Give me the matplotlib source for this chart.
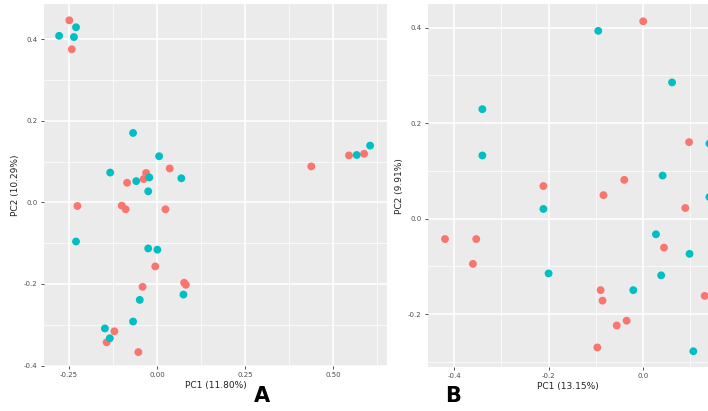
import matplotlib.pyplot as plt
from matplotlib.ticker import MultipleLocator

# Panel A: PCA scores, two groups
a_red_x = [-0.249, -0.242, -0.226, -0.100, -0.089, -0.085, -0.031, -0.038, 0.036, 0.024,
           -0.005, 0.077, 0.082, -0.041, -0.121, -0.143, -0.053, 0.438, 0.545, 0.588]
a_red_y = [0.446, 0.375, -0.009, -0.008, -0.017, 0.048, 0.072, 0.057, 0.083, -0.017,
           -0.157, -0.197, -0.202, -0.207, -0.316, -0.343, -0.367, 0.088, 0.115, 0.119]
a_teal_x = [-0.230, -0.278, -0.236, -0.068, 0.006, -0.133, -0.059, -0.022, -0.025, 0.069,
            -0.230, -0.025, 0.001, 0.075, -0.049, -0.068, -0.148, -0.134, 0.567, 0.605]
a_teal_y = [0.429, 0.408, 0.405, 0.170, 0.113, 0.073, 0.052, 0.061, 0.027, 0.059,
            -0.096, -0.113, -0.116, -0.226, -0.239, -0.292, -0.309, -0.333, 0.116, 0.139]

# Panel B
b_red_x = [0.000, 0.097, -0.040, -0.211, -0.084, 0.089, -0.419, -0.353, -0.360, 0.044,
           -0.090, -0.086, 0.130, -0.056, -0.035, -0.097]
b_red_y = [0.413, 0.160, 0.081, 0.068, 0.049, 0.022, -0.043, -0.043, -0.095, -0.061,
           -0.150, -0.172, -0.162, -0.224, -0.214, -0.270]
b_teal_x = [-0.095, 0.061, -0.340, -0.340, 0.140, 0.041, -0.211, 0.140, 0.027, 0.098,
            -0.200, 0.038, -0.021, 0.106]
b_teal_y = [0.393, 0.285, 0.229, 0.132, 0.157, 0.090, 0.020, 0.045, -0.033, -0.074,
            -0.115, -0.119, -0.150, -0.278]

RED = '#F8766D'
TEAL = '#00BFC4'

fig = plt.figure(figsize=(7.08, 4.11), dpi=100)
ax_a = fig.add_axes([0.0621, 0.1095, 0.4845, 0.8808])
ax_b = fig.add_axes([0.6045, 0.107, 0.3955, 0.883])


def style(ax, xmaj, ymaj):
    ax.set_facecolor('#EBEBEB')
    for s in ax.spines.values():
        s.set_visible(False)
    ax.xaxis.set_major_locator(MultipleLocator(xmaj))
    ax.xaxis.set_minor_locator(MultipleLocator(xmaj / 2))
    ax.yaxis.set_major_locator(MultipleLocator(ymaj))
    ax.yaxis.set_minor_locator(MultipleLocator(ymaj / 2))
    ax.grid(which='major', color='white', linewidth=1.1)
    ax.grid(which='minor', color='white', linewidth=0.5)
    ax.set_axisbelow(True)
    ax.tick_params(which='major', length=2.5, width=0.6, color='#333333',
                   labelsize=5, labelcolor='#4D4D4D', pad=2)
    ax.tick_params(which='minor', length=0)


style(ax_a, 0.25, 0.2)
ax_a.scatter(a_red_x, a_red_y, s=32, color=RED, edgecolors='none', zorder=3)
ax_a.scatter(a_teal_x, a_teal_y, s=32, color=TEAL, edgecolors='none', zorder=3)
ax_a.set_xlim(-0.321, 0.653)
ax_a.set_ylim(-0.401, 0.486)
ax_a.set_xticks([-0.25, 0.0, 0.25, 0.5])
ax_a.set_xticklabels(['-0.25', '0.00', '0.25', '0.50'])
ax_a.set_yticks([-0.4, -0.2, 0.0, 0.2, 0.4])
ax_a.set_yticklabels(['-0.4', '-0.2', '0.0', '0.2', '0.4'])
ax_a.set_xlabel('PC1 (11.80%)', fontsize=6.5, color='#222222', labelpad=2)
ax_a.set_ylabel('PC2 (10.29%)', fontsize=6.5, color='#222222', labelpad=3)

style(ax_b, 0.2, 0.2)
ax_b.scatter(b_red_x, b_red_y, s=32, color=RED, edgecolors='none', zorder=3)
ax_b.scatter(b_teal_x, b_teal_y, s=32, color=TEAL, edgecolors='none', zorder=3)
ax_b.set_xlim(-0.455, 0.137)
ax_b.set_ylim(-0.311, 0.449)
ax_b.set_xticks([-0.4, -0.2, 0.0])
ax_b.set_xticklabels(['-0.4', '-0.2', '0.0'])
ax_b.set_yticks([-0.2, 0.0, 0.2, 0.4])
ax_b.set_yticklabels(['-0.2', '0.0', '0.2', '0.4'])
ax_b.set_xlabel('PC1 (13.15%)', fontsize=6.5, color='#222222', labelpad=2)
ax_b.set_ylabel('PC2 (9.91%)', fontsize=6.5, color='#222222', labelpad=3)

fig.text(262 / 708, 1 - 396 / 411, 'A', fontsize=15, fontweight='bold',
         ha='center', va='center')
fig.text(453 / 708, 1 - 396 / 411, 'B', fontsize=15, fontweight='bold',
         ha='center', va='center')

fig.savefig('out.png', dpi=100)
